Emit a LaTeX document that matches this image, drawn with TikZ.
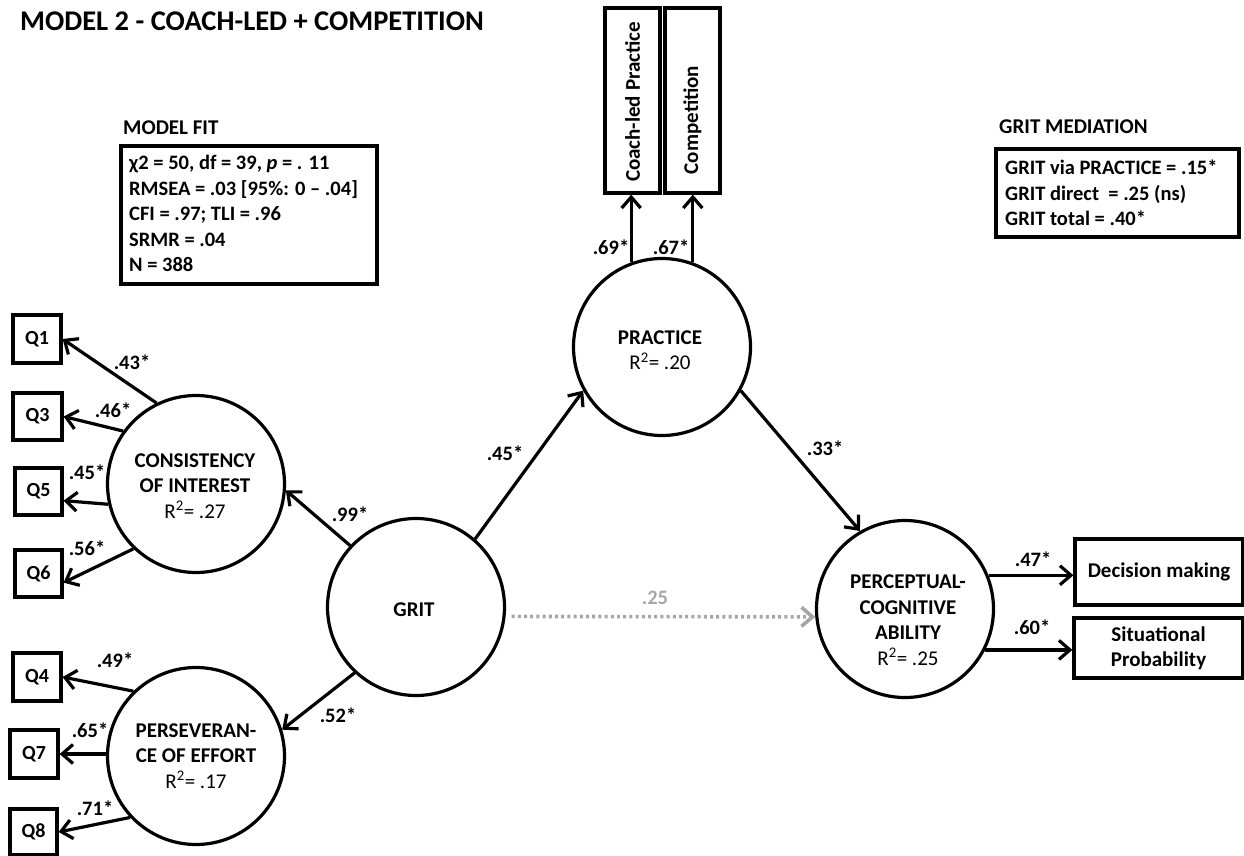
\documentclass[tikz,border=0pt]{standalone}
\usepackage{fontspec}
\setmainfont{Carlito}
\usetikzlibrary{arrows.meta}
\newcommand{\fsz}[2]{\fontsize{#1}{#2}\selectfont}
\tikzset{
  latent/.style={circle, draw, line width=3.2pt, minimum size=177pt, inner sep=0pt},
  obs/.style={rectangle, draw, line width=3.2pt, inner sep=0pt},
  ltext/.style={align=center, inner sep=0pt, font=\fsz{21}{25.5}\bfseries},
  qtext/.style={font=\fsz{20}{24}\bfseries},
  vtext/.style={rotate=90, inner sep=0pt, font=\fsz{21}{25}\bfseries},
  arr/.style={line width=3.2pt, -{Straight Barb[length=11pt,width=19pt]}},
  ns/.style={line width=3.6pt, draw=nsgray, dash pattern=on 3pt off 3.2pt,
             -{Straight Barb[length=11pt,width=19pt,line width=3.6pt]}},
  coef/.style={inner sep=0pt, font=\fsz{20.5}{24}\bfseries},
  heading/.style={anchor=west, inner sep=0pt, font=\fsz{21}{25}\bfseries},
  infobox/.style={draw, line width=3.2pt, inner sep=0pt},
  infotext/.style={anchor=west, align=left, inner sep=0pt, font=\fsz{20.5}{25.5}\bfseries},
}
\definecolor{nsgray}{HTML}{A6A6A6}
\newcommand{\rsq}[1]{\mdseries R\textsuperscript{2}= #1}
\begin{document}
\begin{tikzpicture}[x=1pt,y=-1pt]
\useasboundingbox (0,0) rectangle (1244,856);

% title and information boxes
\node[anchor=west, inner sep=0pt, font=\fsz{28.5}{32}\bfseries] (title) at (20,21)
  {MODEL 2 - COACH-LED + COMPETITION};
\node[heading] (fithead) at (123,128) {MODEL FIT};
\node[infobox, minimum width=256pt, minimum height=138pt] (fit) at (249,215) {};
\node[infotext] (fittxt) at (129,213.5)
  {χ2 = 50, df = 39, \textit{p} = . 11\\
   RMSEA = .03 [95\%: 0 – .04]\\
   CFI = .97; TLI = .96\\
   SRMR = .04\\
   N = 388};
\node[heading] (medhead) at (999,127) {GRIT MEDIATION};
\node[infobox, minimum width=243pt, minimum height=88pt] (med) at (1117.5,193) {};
\node[infotext] (medtxt) at (1005,193)
  {GRIT via PRACTICE = .15*\\
   GRIT direct\ \ = .25 (ns)\\
   GRIT total = .40*};

% latent variables
\node[latent] (prac) at (662,347) {};
\node[ltext] (practxt) at (660,350) {PRACTICE\\\rsq{.20}};
\node[latent] (grit) at (416,607) {};
\node[ltext] (grittxt) at (414,610) {GRIT};
\node[latent] (cons) at (196,484) {};
\node[ltext] (constxt) at (195,486) {CONSISTENCY\\OF INTEREST\\\rsq{.27}};
\node[latent] (pers) at (196,756) {};
\node[ltext] (perstxt) at (196,756) {PERSEVERAN-\\CE OF EFFORT\\\rsq{.17}};
\node[latent] (perc) at (905,609) {};
\node[ltext] (perctxt) at (908,620) {PERCEPTUAL-\\COGNITIVE\\ABILITY\\\rsq{.25}};

% observed indicators
\node[obs, minimum width=48pt, minimum height=48pt, qtext] (q1) at (37,339) {Q1};
\node[obs, minimum width=49pt, minimum height=47pt, qtext] (q3) at (37.5,416.5) {Q3};
\node[obs, minimum width=47pt, minimum height=47pt, qtext] (q5) at (38.5,491.5) {Q5};
\node[obs, minimum width=47pt, minimum height=47pt, qtext] (q6) at (38.5,573.5) {Q6};
\node[obs, minimum width=48pt, minimum height=48pt, qtext] (q4) at (37,677) {Q4};
\node[obs, minimum width=48pt, minimum height=48pt, qtext] (q7) at (34,754) {Q7};
\node[obs, minimum width=47pt, minimum height=46pt, qtext] (q8) at (33.5,832) {Q8};
\node[obs, minimum width=55pt, minimum height=185pt] (coach) at (632.5,100.5) {};
\node[vtext] (coachtxt) at (632.5,102) {Coach-led Practice};
\node[obs, minimum width=55pt, minimum height=185pt] (comp) at (692.5,100.5) {};
\node[vtext] (comptxt) at (692.5,120) {Competition};
\node[obs, minimum width=168pt, minimum height=66pt, font=\fsz{21}{25}\bfseries] (dm) at (1159,572) {Decision making};
\node[obs, minimum width=169pt, minimum height=60pt, align=center, font=\fsz{21}{25}\bfseries] (sp) at (1158.5,648) {Situational\\Probability};

% loadings of consistency of interest
\draw[arr] (cons.116) -- (q1.east);
\draw[arr] (cons.144) -- (q3.east);
\draw[arr] (cons.193) -- (q5.-20);
\draw[arr] (cons.226) -- (q6.-20);
% loadings of perseverance of effort
\draw[arr] (pers.134) -- (q4.east);
\draw[arr] (pers.west |- q7.east) -- (q7.east);
\draw[arr] (pers.223) -- (q8.east);
% structural paths
\draw[arr] (grit.137) -- (cons.-4);
\draw[arr] (grit.227) -- (pers.17);
\draw[arr] (grit.49) -- (prac.209);
\draw[arr] (prac.-29) -- (perc.120);
\draw[ns] ([xshift=6pt]grit.-6) -- (perc.185);
\draw[arr] (prac.110) -- (prac.110 |- coach.south);
\draw[arr] (prac.70) -- (prac.70 |- comp.south);
\draw[arr] (perc.22) -- (perc.22 -| dm.west);
\draw[arr] (perc.-27) -- (perc.-27 -| sp.west);

% coefficients
\node[coef] (c43) at (132,362) {.43*};
\node[coef] (c46) at (113,410) {.46*};
\node[coef] (c45a) at (87,472) {.45*};
\node[coef] (c56) at (87,548) {.56*};
\node[coef] (c49) at (115,660) {.49*};
\node[coef] (c65) at (90,730) {.65*};
\node[coef] (c71) at (95,808) {.71*};
\node[coef] (c99) at (350,514) {.99*};
\node[coef] (c52) at (338,715) {.52*};
\node[coef] (c45b) at (505,453) {.45*};
\node[coef] (c33) at (825,448) {.33*};
\node[coef] (c69) at (611,247) {.69*};
\node[coef] (c67) at (671,247) {.67*};
\node[coef, text=nsgray] (c25) at (655,598) {.25};
\node[coef] (c47) at (1033,559) {.47*};
\node[coef] (c60) at (1032,627) {.60*};
\end{tikzpicture}
\end{document}
